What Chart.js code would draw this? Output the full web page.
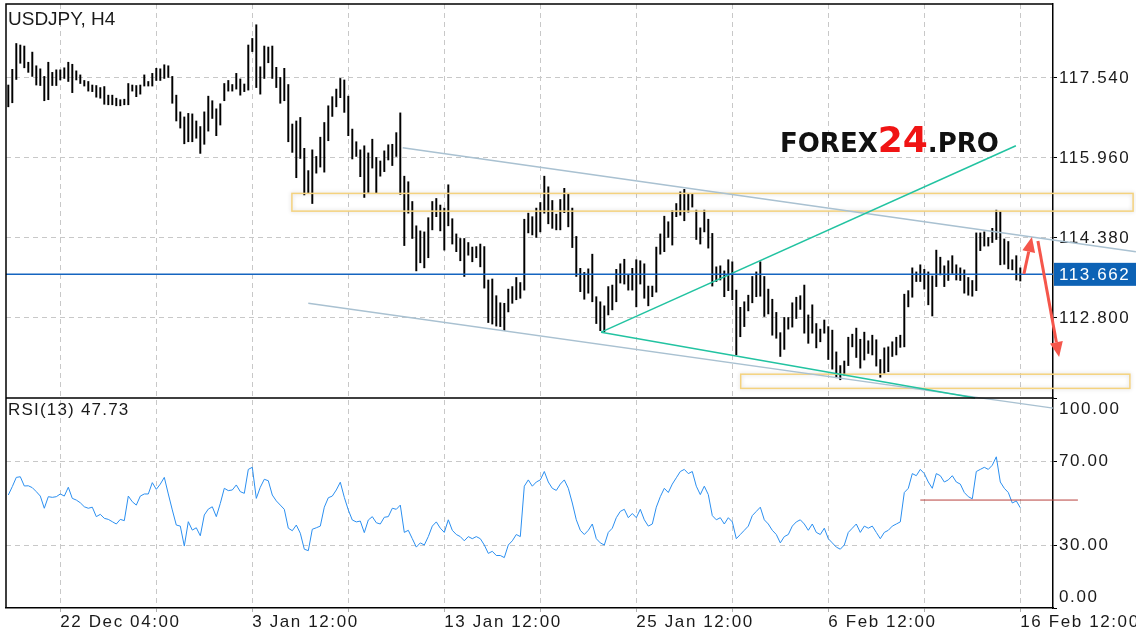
<!DOCTYPE html>
<html lang="en">
<head>
<meta charset="UTF-8" />
<title>USDJPY, H4</title>
<style>
  html, body { margin: 0; padding: 0; background: #ffffff; }
  .chart-container { position: relative; width: 1136px; height: 640px; }
</style>
</head>
<body>
<div class="chart-container"><canvas id="mainChart"></canvas></div>
<script src="https://cdn.jsdelivr.net/npm/chart.js"></script>
<script>
// H4 bars (bar index 0 = first bar on the left)
var highs = [
  117.40,117.71,118.22,118.19,118.17,117.85,118.05,117.78,117.72,117.57,
  117.85,117.65,117.70,117.70,117.74,117.85,117.81,117.68,117.60,117.49,
  117.47,117.40,117.39,117.35,117.37,117.20,117.20,117.14,117.11,117.12,
  117.43,117.40,117.39,117.40,117.60,117.47,117.63,117.73,117.72,117.80,
  117.78,117.57,117.20,116.87,116.77,116.84,116.83,116.69,116.58,116.87,
  117.18,117.09,116.93,117.03,117.43,117.49,117.41,117.63,117.52,117.42,
  118.19,118.32,118.59,117.76,118.17,118.15,118.17,117.75,117.55,117.73,
  117.41,116.63,116.69,116.76,116.15,115.71,116.12,115.99,116.37,116.66,
  116.99,117.17,117.32,117.53,117.50,117.18,116.53,116.28,116.12,116.20,
  116.06,116.33,115.97,115.90,116.10,116.22,116.23,116.46,116.85,115.60,
  115.49,115.10,114.62,114.52,114.50,114.78,115.10,115.16,115.03,114.97,
  115.43,114.76,114.46,114.37,114.37,114.29,114.20,114.21,114.26,114.21,
  113.55,113.57,113.24,113.10,113.09,113.37,113.42,113.60,113.50,114.75,
  114.87,114.80,114.97,115.08,115.60,115.39,115.12,114.85,115.14,115.36,
  115.26,114.97,114.41,113.78,113.70,113.77,114.06,113.22,113.12,113.04,
  113.42,113.45,113.76,113.87,113.96,113.65,113.78,113.95,113.93,113.87,
  113.43,113.43,114.20,114.46,114.81,114.70,114.92,115.06,115.29,115.34,
  115.26,115.25,114.93,114.58,114.93,114.75,114.47,113.81,113.83,113.73,
  113.95,113.91,113.35,113.01,113.12,113.25,113.62,113.71,113.91,113.62,
  113.37,113.17,112.91,112.51,112.81,112.81,113.10,113.21,113.24,113.45,
  112.86,113.06,112.69,112.58,112.76,112.63,112.56,112.13,111.86,111.95,
  112.42,112.48,112.60,112.38,112.52,112.35,112.46,112.37,111.98,112.21,
  112.23,112.33,112.42,112.46,113.27,113.34,113.79,113.71,113.85,113.76,
  113.71,113.63,114.14,114.00,113.83,113.93,114.03,113.85,113.79,113.75,
  113.60,113.54,114.48,114.48,114.50,114.39,114.57,114.93,114.90,114.36,
  114.31,113.95,114.03,113.79
];
var lows = [
  116.97,117.05,117.51,117.83,117.74,117.65,117.57,117.40,117.39,117.09,
  117.11,117.39,117.39,117.50,117.53,117.47,117.25,117.50,117.43,117.38,
  117.28,117.27,117.16,117.14,117.02,117.01,117.01,116.99,116.99,117.01,
  117.01,117.28,117.17,117.22,117.38,117.38,117.38,117.49,117.49,117.53,
  117.55,117.04,116.69,116.55,116.24,116.28,116.28,116.35,116.05,116.23,
  116.49,116.74,116.40,116.61,117.09,117.28,117.28,117.32,117.20,117.27,
  117.30,118.06,117.35,117.22,117.53,117.84,117.53,117.35,117.04,117.09,
  116.28,116.07,115.57,115.95,115.23,115.26,115.06,115.66,115.78,115.68,
  116.30,116.78,116.97,117.15,116.86,116.40,115.94,115.99,115.59,115.18,
  115.28,115.76,115.27,115.60,115.69,115.92,115.81,115.99,115.24,114.23,
  114.87,114.37,113.73,113.89,113.79,113.99,114.54,114.80,114.52,114.14,
  114.62,114.26,114.11,113.93,113.62,114.04,113.91,113.99,113.81,113.39,
  112.71,112.68,112.64,112.63,112.55,112.92,113.09,113.16,113.19,113.35,
  114.48,114.44,114.39,114.50,114.87,114.66,114.57,114.54,114.54,114.88,
  114.60,114.19,113.62,113.32,113.17,113.29,113.12,112.69,112.55,112.53,
  112.86,112.96,113.12,113.49,113.47,113.35,113.35,113.02,113.47,113.19,
  113.04,113.22,113.31,114.06,114.11,114.39,114.24,114.80,114.83,114.72,
  114.89,114.99,114.35,114.26,114.50,114.18,113.43,113.52,113.55,113.22,
  113.34,113.16,112.07,112.43,112.63,112.94,113.10,113.22,113.23,112.83,
  112.88,112.46,112.40,112.04,112.18,112.58,112.62,112.79,112.97,112.50,
  112.30,112.50,112.21,112.33,112.50,111.98,111.79,111.62,111.58,111.67,
  111.86,112.23,112.02,111.81,111.97,112.10,112.07,111.85,111.63,111.71,
  111.74,112.04,112.07,112.22,112.23,113.02,113.21,113.52,113.52,113.37,
  113.06,112.84,113.42,113.65,113.42,113.54,113.68,113.55,113.54,113.29,
  113.25,113.23,113.34,114.13,114.22,114.22,114.29,114.35,113.85,113.86,
  113.77,113.75,113.55,113.53
];
var rsiValues = [
  53.8,57.8,62.2,62.5,58.1,58.2,57.3,55.4,53.3,47.5,
  53.0,52.7,53.0,54.3,53.3,57.5,52.2,51.4,50.1,48.2,
  47.5,48.0,43.5,44.6,42.7,42.2,41.1,40.0,42.2,41.6,
  53.3,50.6,49.0,53.3,54.3,54.3,59.7,56.5,59.0,62.2,
  54.3,46.7,39.5,39.0,29.5,41.1,37.1,38.2,34.4,44.3,
  47.1,48.2,43.5,49.8,57.0,55.9,56.2,58.6,55.4,54.6,
  66.0,67.0,52.2,57.5,61.3,60.6,53.8,51.0,49.0,47.0,
  38.0,36.8,39.5,35.6,28.0,27.3,37.5,38.2,39.0,48.0,
  52.5,53.3,56.2,59.9,52.7,46.7,41.9,41.0,41.4,35.9,
  41.9,43.5,40.6,40.0,43.2,43.5,47.5,47.0,49,36,
  37,33,29,31,30,34,39,41,38,36,
  42,37,35,34,32,34,33,34,33,30,
  26,27,25,25,24,30,32,35,34,58,
  61,58,60,61,65,60,57,56,59,61,
  57,50,42,37,35,37,40,33,31,30,
  36,38,43,46,47,43,45,43,47,42,
  39,40,48,53,57,55,59,62,65,66,
  64,65,58,54,58,54,44,42,43,40,
  43,41,33,35,37,39,44,46,48,42,
  40,37,35,31,34,35,39,41,42,40,
  37,40,36,35,38,33,31,29,28,30,
  36,38,40,36,39,38,39,36,33,36,
  37,39,40,41,55,57,64,63,66,64,
  60,57,64,63,60,61,63,60,59,55,
  53,52,65,66,67,66,68,72,60,57,
  55,50,51,47.73
];

var priceTicks = [117.54, 115.96, 114.38, 112.80];
var rsiTicks = [0, 30, 70, 100];
var gridIndex = [13, 37, 61, 85, 109, 133, 157, 181, 205, 229, 253];
var dateTickIndex = [13, 61, 109, 157, 205, 253];
var dateTickLabels = ["22 Dec 04:00", "3 Jan 12:00", "13 Jan 12:00", "25 Jan 12:00", "6 Feb 12:00", "16 Feb 12:00"];
var lastPrice = 113.662;
var lastRsi = 47.73;

// hand drawn objects on the chart, as [bar index, price]
var channelUpper = [[98.6, 116.16], [281.9, 114.11]];
var channelLower = [[75.0, 113.09], [261.2, 111.02]];
var greenUp = [[148.2, 112.52], [251.9, 116.20]];
var greenDown = [[148.2, 112.52], [241.7, 111.22]];
var zoneUpper = [[70.9, 115.26], [281.2, 114.91]];
var zoneLower = [[183.1, 111.69], [280.4, 111.41]];
var arrowUp = [[253.9, 113.67], [255.9, 114.40]];
var arrowDown = [[257.4, 114.32], [262.7, 112.03]];
var rsiLevel = [[228, 51.4], [267.4, 51.4]];

var barData = lows.map(function (lo, i) {
  return { x: i, y: [lo, highs[i]] };
});
var rsiData = rsiValues.map(function (v, i) {
  return { x: i, y: v };
});

function fixWidth(w) {
  return function (scale) {
    scale.width = w;
    scale.paddingTop = 0;
    scale.paddingBottom = 0;
  };
}

var axisFont = { family: "'Liberation Sans'", size: 17 };

var overlay = {
  id: "overlay",
  beforeDraw: function (chart) {
    chart.ctx.letterSpacing = "1.6px";
  },
  beforeDatasetsDraw: function (chart) {
    var ctx = chart.ctx;
    ctx.save();
    ctx.letterSpacing = "0px";
    ctx.textBaseline = "alphabetic";
    var x = 780, y = 152;
    ctx.font = "bold 26px 'DejaVu Sans'";
    ctx.fillStyle = "#111111";
    ctx.fillText("FOREX", x, y);
    x += ctx.measureText("FOREX").width;
    ctx.font = "bold 36px 'DejaVu Sans'";
    ctx.fillStyle = "#f01414";
    ctx.fillText("24", x, y);
    x += ctx.measureText("24").width;
    ctx.font = "bold 26px 'DejaVu Sans'";
    ctx.fillStyle = "#111111";
    ctx.fillText(".PRO", x, y);
    ctx.restore();
  },
  afterDatasetsDraw: function (chart) {
    var ctx = chart.ctx;
    var xs = chart.scales.x, ps = chart.scales.price, rs = chart.scales.rsi;
    var a = chart.chartArea;
    function pt(p, s) { return [xs.getPixelForValue(p[0]), s.getPixelForValue(p[1])]; }
    function line(seg, s, color, w) {
      var p1 = pt(seg[0], s), p2 = pt(seg[1], s);
      ctx.save();
      ctx.strokeStyle = color;
      ctx.lineWidth = w;
      ctx.beginPath();
      ctx.moveTo(p1[0], p1[1]);
      ctx.lineTo(p2[0], p2[1]);
      ctx.stroke();
      ctx.restore();
    }
    function zone(seg) {
      var p1 = pt(seg[0], ps), p2 = pt(seg[1], ps);
      ctx.save();
      ctx.strokeStyle = "#f4d27e";
      ctx.lineWidth = 1.5;
      ctx.shadowColor = "rgba(0,0,0,0.18)";
      ctx.shadowBlur = 4;
      ctx.strokeRect(p1[0], p1[1], p2[0] - p1[0], p2[1] - p1[1]);
      ctx.restore();
    }
    function arrow(seg) {
      var p1 = pt(seg[0], ps), p2 = pt(seg[1], ps);
      var ang = Math.atan2(p2[1] - p1[1], p2[0] - p1[0]);
      var len = 15, half = 6.5;
      var bx = p2[0] - len * Math.cos(ang), by = p2[1] - len * Math.sin(ang);
      ctx.save();
      ctx.strokeStyle = "#f5564b";
      ctx.fillStyle = "#f5564b";
      ctx.lineWidth = 3;
      ctx.beginPath();
      ctx.moveTo(p1[0], p1[1]);
      ctx.lineTo(bx, by);
      ctx.stroke();
      ctx.beginPath();
      ctx.moveTo(p2[0], p2[1]);
      ctx.lineTo(bx + half * Math.sin(ang), by - half * Math.cos(ang));
      ctx.lineTo(bx - half * Math.sin(ang), by + half * Math.cos(ang));
      ctx.closePath();
      ctx.fill();
      ctx.restore();
    }

    zone(zoneUpper);
    zone(zoneLower);
    line(channelUpper, ps, "#a9c1d1", 1.5);
    line(channelLower, ps, "#a9c1d1", 1.5);
    line(greenUp, ps, "#22c3a1", 1.5);
    line(greenDown, ps, "#22c3a1", 1.5);
    line(rsiLevel, rs, "#b8423e", 1);

    // last price line and its label
    var py = ps.getPixelForValue(lastPrice);
    ctx.save();
    ctx.strokeStyle = "#1565c0";
    ctx.lineWidth = 1.5;
    ctx.beginPath();
    ctx.moveTo(a.left, py);
    ctx.lineTo(a.right, py);
    ctx.stroke();
    ctx.fillStyle = "#0d62b5";
    ctx.fillRect(a.right + 1, py - 11.5, chart.width - a.right - 1, 23);
    ctx.fillStyle = "#ffffff";
    ctx.font = "17px 'Liberation Sans'";
    ctx.letterSpacing = "1.6px";
    ctx.textBaseline = "middle";
    ctx.fillText(lastPrice.toFixed(3), a.right + 6, py + 1);
    ctx.restore();

    arrow(arrowUp);
    arrow(arrowDown);

    // panel frames
    ctx.save();
    ctx.strokeStyle = "#000000";
    ctx.lineWidth = 1.5;
    ctx.beginPath();
    ctx.moveTo(a.left, a.bottom);
    ctx.lineTo(a.left, a.top);
    ctx.lineTo(a.right, a.top);
    ctx.moveTo(a.left, ps.bottom);
    ctx.lineTo(a.right, ps.bottom);
    ctx.stroke();
    ctx.restore();

    // texts
    ctx.save();
    ctx.fillStyle = "#1a1a1a";
    ctx.textBaseline = "middle";
    ctx.letterSpacing = "0px";
    ctx.font = "19px 'Liberation Sans'";
    ctx.fillText("USDJPY, H4", 8, 20);
    ctx.letterSpacing = "1.2px";
    ctx.font = "17px 'Liberation Sans'";
    ctx.fillText("RSI(13) " + lastRsi.toFixed(2), 8, 410);
    ctx.letterSpacing = "1.6px";
    ctx.fillText((100).toFixed(2), a.right + 6, rs.getPixelForValue(100) + 11);
    ctx.fillText((0).toFixed(2), a.right + 6, rs.getPixelForValue(0) - 11);
    ctx.restore();
  }
};

var ctxMain = document.getElementById("mainChart").getContext("2d");
var mainChart = new Chart(ctxMain, {
  type: "bar",
  data: {
    datasets: [
      {
        type: "bar",
        label: "USDJPY",
        data: barData,
        xAxisID: "x",
        yAxisID: "price",
        backgroundColor: "#000000",
        barThickness: 1.3
      },
      {
        type: "line",
        label: "RSI(13)",
        data: rsiData,
        xAxisID: "x",
        yAxisID: "rsi",
        borderColor: "#2b8ff0",
        borderWidth: 1,
        pointRadius: 0,
        tension: 0
      }
    ]
  },
  options: {
    responsive: true,
    maintainAspectRatio: false,
    animation: false,
    devicePixelRatio: 1,
    layout: { padding: { left: 6, top: 4, right: 0, bottom: 0 } },
    plugins: { legend: { display: false }, tooltip: { enabled: false } },
    scales: {
      x: {
        type: "linear",
        position: "bottom",
        offset: false,
        min: -0.575,
        max: 261.175,
        afterBuildTicks: function (scale) {
          scale.ticks = gridIndex.map(function (v) { return { value: v }; });
        },
        afterFit: function (scale) {
          scale.height = 32;
          scale.paddingLeft = 0;
          scale.paddingRight = 0;
        },
        ticks: {
          autoSkip: false,
          maxRotation: 0,
          align: "start",
          padding: 0,
          color: "#1a1a1a",
          font: axisFont,
          callback: function (v) {
            var k = dateTickIndex.indexOf(v);
            return k >= 0 ? dateTickLabels[k] : "";
          }
        },
        grid: { offset: false, color: "#c8c8c8", lineWidth: 1, tickLength: 4, tickColor: "#b0b0b0" },
        border: { display: true, color: "#000000", width: 1.5, dash: [5, 4] }
      },
      price: {
        type: "linear",
        position: "right",
        stack: "panes",
        stackWeight: 394,
        min: 111.22,
        max: 119.0,
        afterBuildTicks: function (scale) {
          scale.ticks = priceTicks.map(function (v) { return { value: v }; });
        },
        afterFit: fixWidth(83),
        ticks: {
          padding: 2,
          color: "#1a1a1a",
          font: axisFont,
          callback: function (v) { return v.toFixed(3); }
        },
        grid: { color: "#c8c8c8", lineWidth: 1, tickLength: 4, tickColor: "#000000" },
        border: { display: true, color: "#000000", width: 1.5, dash: [5, 4] }
      },
      rsi: {
        type: "linear",
        position: "right",
        stack: "panes",
        stackWeight: 210,
        min: 0,
        max: 100,
        afterBuildTicks: function (scale) {
          scale.ticks = rsiTicks.map(function (v) { return { value: v }; });
        },
        afterFit: fixWidth(83),
        ticks: {
          padding: 2,
          color: "#1a1a1a",
          font: axisFont,
          callback: function (v) { return v === 30 || v === 70 ? v.toFixed(2) : ""; }
        },
        grid: {
          color: function (c) {
            return c.tick && (c.tick.value === 30 || c.tick.value === 70) ? "#c8c8c8" : "rgba(0,0,0,0)";
          },
          lineWidth: 1,
          tickLength: 4,
          tickColor: "#000000"
        },
        border: { display: true, color: "#000000", width: 1.5, dash: [5, 4] }
      }
    }
  },
  plugins: [overlay]
});
</script>
</body>
</html>
